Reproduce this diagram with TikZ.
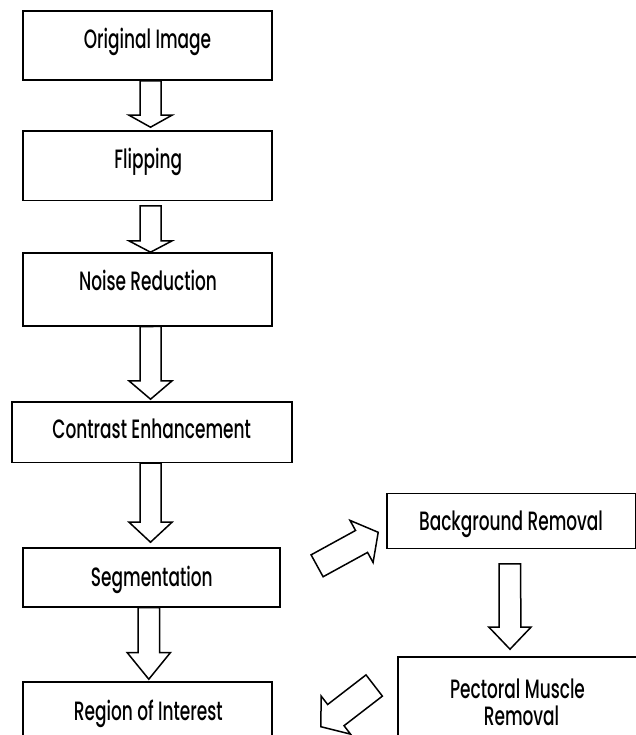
\documentclass[tikz,border=0pt]{standalone}
\usepackage{fontspec}
\setmainfont{Poppins}[FakeStretch=0.64, UprightFont=* Medium]
\usetikzlibrary{calc}
\newcommand\blockarr[5]{%
  \coordinate (bh) at ($(#2)!#5!(#1)$);
  \draw[barrow] ($(#1)!#3!90:(#2)$) -- ($(bh)!#3!-90:(#1)$) -- ($(bh)!#4!-90:(#1)$) -- (#2)
    -- ($(bh)!#4!90:(#1)$) -- ($(bh)!#3!90:(#1)$) -- ($(#1)!#3!-90:(#2)$) -- cycle;
}
\begin{document}
\begin{tikzpicture}[x=1pt,y=-1pt,
  boxn/.style={draw, line width=1.6pt, inner sep=0pt},
  txt/.style={inner sep=0pt, anchor=base, font=\fontsize{26.5}{30}\selectfont},
  barrow/.style={draw, line width=1.5pt, fill=white, line join=miter}]
\useasboundingbox (0,0) rectangle (636,735);
\clip (0,0) rectangle (636,735);
\fill[white] (0,0) rectangle (636,735);
% boxes
\node[boxn, minimum width=249pt, minimum height=69pt] (o) at (147.5,45.5) {};
\node[boxn, minimum width=249pt, minimum height=69.7pt] (f) at (147.5,165.85) {};
\node[boxn, minimum width=249pt, minimum height=72.7pt] (n) at (147.5,289.35) {};
\node[boxn, minimum width=280.3pt, minimum height=60.6pt] (c) at (151.85,432) {};
\node[boxn, minimum width=257pt, minimum height=59pt] (s) at (151.5,577.2) {};
\node[boxn, minimum width=249pt, minimum height=68.3pt] (r) at (147.5,715.85) {};
\node[boxn, minimum width=248.8pt, minimum height=55pt] (bg) at (511.1,520.8) {};
\node[boxn, minimum width=243.3pt, minimum height=103.3pt] (pm) at (519.35,708.35) {};
% texts
\node[txt] (ot) at (147.5,48.3) {Original Image};
\node[txt] (ft) at (148.3,168.3) {Flipping};
\node[txt] (nt) at (148,290) {Noise Reduction};
\node[txt] (ct) at (151.7,438.3) {Contrast Enhancement};
\node[txt] (st) at (151.8,586.7) {Segmentation};
\node[txt] (rt) at (148.3,720) {Region of Interest};
\node[txt] (bgt) at (511,530) {Background Removal};
\node[txt] (pmt1) at (517.5,698.3) {Pectoral Muscle};
\node[txt] (pmt2) at (521.5,725) {Removal};
% arrow end points
\coordinate (a1s) at ($(o.south)+(3,0)$);
\coordinate (a1t) at ($(f.north)+(3,-3)$);
\coordinate (a2s) at ($(f.south)+(3,4.3)$);
\coordinate (a2t) at ($(n.north)+(3,0)$);
\coordinate (a3s) at ($(n.south)+(3,0)$);
\coordinate (a3t) at ($(c.north)+(-1.3,-1.7)$);
\coordinate (a4s) at ($(c.south)+(-1.3,0)$);
\coordinate (a4t) at ($(s.north)+(-1,-4.7)$);
\coordinate (a5s) at ($(s.south)+(-2.7,0)$);
\coordinate (a5t) at ($(r.north)+(1.3,-1.7)$);
\coordinate (a6s) at ($(bg.south)+(-1.2,14.7)$);
\coordinate (a6t) at ($(pm.north)+(-9.35,-6.7)$);
\coordinate (d1s) at ($(s.east)+(36.3,-11.4)$);
\coordinate (d1t) at ($(bg.west)+(-7.7,11.5)$);
\coordinate (d2s) at ($(pm.west)+(-22.7,-22.85)$);
\coordinate (d2t) at ($(r.east)+(48,10.85)$);
% arrows
\blockarr{a1s}{a1t}{10.5pt}{21.5pt}{12pt}
\blockarr{a2s}{a2t}{10.5pt}{21.5pt}{11.3pt}
\blockarr{a3s}{a3t}{10.5pt}{21.5pt}{18.3pt}
\blockarr{a4s}{a4t}{10.5pt}{21.5pt}{20pt}
\blockarr{a5s}{a5t}{10.7pt}{21.7pt}{26.7pt}
\blockarr{a6s}{a6t}{10.8pt}{21pt}{22pt}
\blockarr{d1s}{d1t}{12.5pt}{24pt}{19pt}
\blockarr{d2s}{d2t}{13.4pt}{24pt}{19pt}
\end{tikzpicture}
\end{document}
